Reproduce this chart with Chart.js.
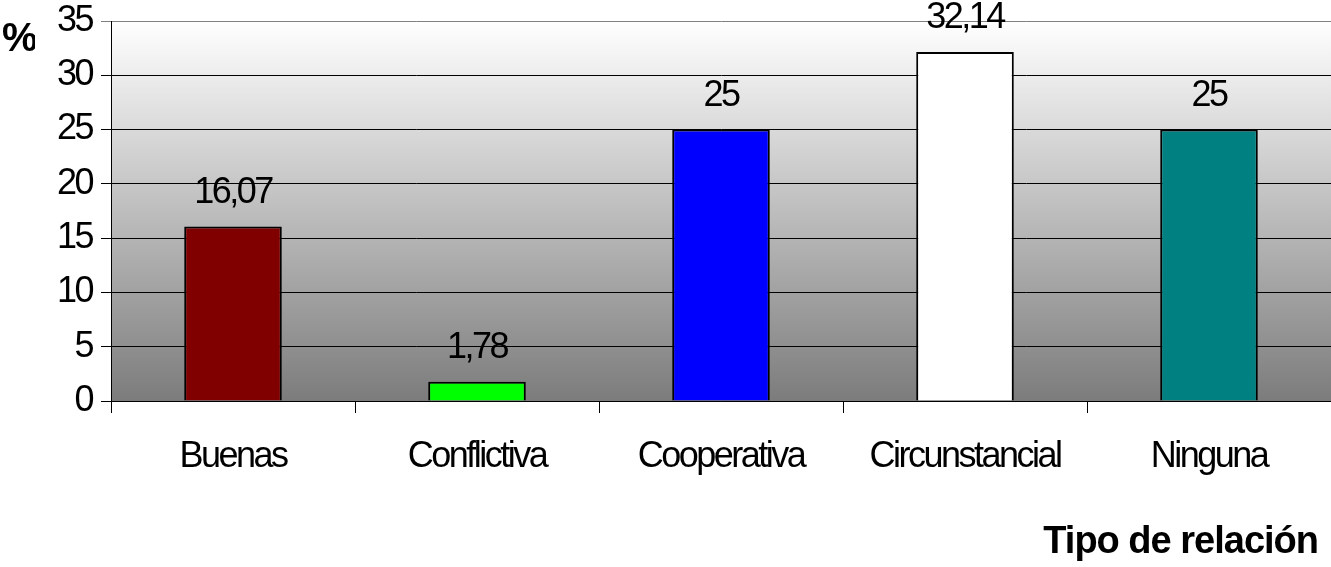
<!DOCTYPE html>
<html>
<head>
<meta charset="utf-8">
<script src="https://cdn.jsdelivr.net/npm/chart.js@4"></script>
<style>
  html, body { margin: 0; padding: 0; background: #fff; }
  #wrap { width: 1331px; height: 567px; }
</style>
</head>
<body>
<div id="wrap"><canvas id="relChart"></canvas></div>
<script>
const categories = ['Buenas', 'Conflictiva', 'Cooperativa', 'Circunstancial', 'Ninguna'];
const percents = [16.07, 1.78, 25, 32.14, 25];
const barColors = ['#800000', '#00ff00', '#0000ff', '#ffffff', '#008080'];
const yTicks = [0, 5, 10, 15, 20, 25, 30, 35];

const FONT = '"Liberation Sans", Arial, sans-serif';
const SPACING = '-2.5px';

const paintPlugin = {
    id: 'paint',
    beforeDraw(chart) {
        const ctx = chart.ctx;
        ctx.letterSpacing = SPACING;
        const a = chart.chartArea;
        const g = ctx.createLinearGradient(0, a.top, 0, a.bottom);
        g.addColorStop(0, '#ffffff');
        g.addColorStop(1, '#7c7c7c');
        ctx.save();
        ctx.fillStyle = g;
        ctx.fillRect(a.left, a.top, a.right - a.left, a.bottom - a.top);
        ctx.restore();
    },
    afterDatasetsDraw(chart) {
        const ctx = chart.ctx;
        const meta = chart.getDatasetMeta(0);
        ctx.save();
        ctx.letterSpacing = SPACING;
        ctx.font = '36px ' + FONT;
        ctx.fillStyle = '#000';
        ctx.textAlign = 'center';
        ctx.textBaseline = 'alphabetic';
        meta.data.forEach((bar, i) => {
            const txt = String(percents[i]).replace('.', ',');
            ctx.fillText(txt, bar.x, bar.y - 24);
        });
        ctx.restore();
    },
    afterDraw(chart) {
        const ctx = chart.ctx;
        ctx.save();
        ctx.letterSpacing = '0px';
        ctx.fillStyle = '#000';
        ctx.font = 'bold 40px ' + FONT;
        ctx.textBaseline = 'alphabetic';
        ctx.save();
        ctx.beginPath();
        ctx.rect(0, 0, 35, 80);
        ctx.clip();
        ctx.textAlign = 'left';
        ctx.fillText('%', 2, 51);
        ctx.restore();
        ctx.font = 'bold 38px ' + FONT;
        ctx.textAlign = 'right';
        ctx.letterSpacing = '-1px';
        ctx.fillText('Tipo de relación', 1318, 553);
        ctx.restore();
    }
};

new Chart(document.getElementById('relChart'), {
    type: 'bar',
    data: {
        labels: categories,
        datasets: [{
            data: percents,
            backgroundColor: barColors,
            borderColor: '#000',
            borderWidth: 2,
            barPercentage: 0.4,
            categoryPercentage: 1
        }]
    },
    options: {
        responsive: true,
        maintainAspectRatio: false,
        animation: false,
        layout: { padding: { top: 21, right: 0, left: 0, bottom: 0 } },
        plugins: {
            legend: { display: false },
            tooltip: { enabled: false }
        },
        scales: {
            x: {
                offset: true,
                grid: {
                    offset: true,
                    drawOnChartArea: false,
                    drawTicks: true,
                    tickLength: 12,
                    color: '#000'
                },
                border: { display: true, color: '#000', width: 1 },
                ticks: {
                    color: '#000',
                    padding: 22,
                    font: { family: FONT, size: 36 },
                    maxRotation: 0,
                    autoSkip: false
                },
                afterFit(scale) {
                    scale.height = 166;
                    scale.paddingLeft = 0;
                    scale.paddingRight = 0;
                }
            },
            y: {
                min: 0,
                max: 35,
                afterBuildTicks(scale) { scale.ticks = yTicks.map(v => ({ value: v })); },
                grid: {
                    color: ctx => ctx.tick && ctx.tick.value === 35 ? '#808080' : '#000',
                    lineWidth: 1,
                    drawTicks: true,
                    tickLength: 10
                },
                border: { display: true, color: '#000', width: 1 },
                ticks: {
                    color: '#000',
                    padding: 9,
                    font: { family: FONT, size: 36 }
                },
                afterFit(scale) {
                    scale.width = 111;
                    scale.paddingTop = 0;
                    scale.paddingBottom = 0;
                }
            }
        }
    },
    plugins: [paintPlugin]
});
</script>
</body>
</html>
